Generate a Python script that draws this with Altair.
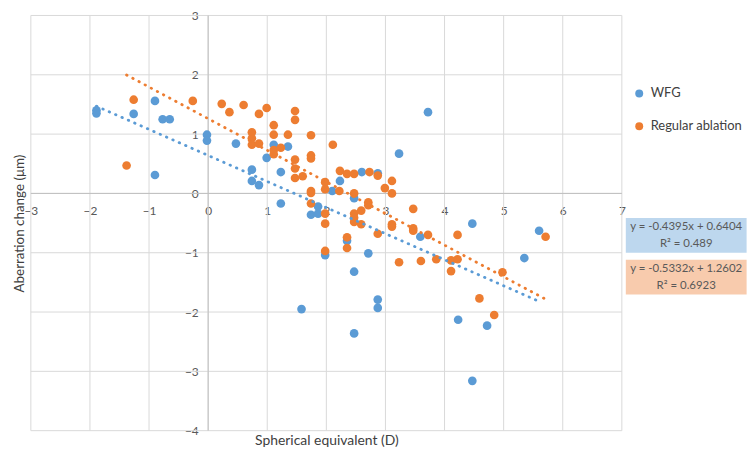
import altair as alt
import pandas as pd

# ---------------- data ----------------
series_names = ["WFG", "Regular ablation"]
series_colors = ["#5B9BD5", "#ED7D31"]

wfg_x = [-1.89, -1.89, -1.26, -0.90, -0.77, -0.65, -0.90, -0.02, -0.02, 0.47,
         0.74, 0.74, 0.86, 0.99, 1.11, 1.23, 1.35, 1.23, 1.74, 1.86,
         1.86, 2.10, 2.23, 2.47, 2.60, 2.87, 3.23, 3.72, 1.58, 2.35,
         1.98, 2.71, 2.47, 2.87, 2.87, 2.47, 3.59, 4.47, 5.35, 5.60,
         4.23, 4.72, 4.47]
wfg_y = [1.40, 1.35, 1.34, 1.56, 1.25, 1.25, 0.31, 0.99, 0.89, 0.84,
         0.40, 0.21, 0.14, 0.60, 0.82, 0.36, 0.79, -0.17, -0.36, -0.22,
         -0.34, 0.04, 0.21, -0.08, 0.36, 0.34, 0.67, 1.37, -1.95, -0.80,
         -1.04, -1.01, -1.32, -1.79, -1.93, -2.36, -0.73, -0.51, -1.09, -0.63,
         -2.13, -2.23, -3.16]

reg_x = [-1.38, -1.26, -0.26, 0.23, 0.36, 0.60, 0.86, 0.99, 1.47, 1.47,
         1.11, 1.11, 1.35, 0.74, 0.74, 0.74, 0.86, 1.11, 1.11, 1.23,
         1.47, 1.47, 1.47, 1.60, 1.74, 1.74, 1.74, 2.11, 1.74, 1.74,
         1.74, 1.98, 1.98, 1.98, 1.98, 2.23, 2.22, 2.35, 2.47, 2.73,
         2.87, 2.47, 2.71, 2.71, 2.47, 2.47, 2.47, 2.59, 2.59, 2.87,
         2.35, 2.35, 1.98, 3.11, 2.99, 3.11, 3.47, 3.11, 3.11, 3.47,
         3.47, 3.72, 4.22, 3.23, 3.60, 3.86, 4.11, 4.22, 4.11, 4.98,
         4.59, 4.84, 5.71]
reg_y = [0.47, 1.58, 1.56, 1.51, 1.37, 1.49, 1.34, 1.44, 1.39, 1.24,
         1.15, 0.99, 0.99, 1.03, 0.93, 0.82, 0.84, 0.73, 0.66, 0.77,
         0.57, 0.42, 0.26, 0.29, 0.98, 0.64, 0.59, 0.82, 0.04, 0.01,
         -0.17, 0.19, 0.07, -0.34, -0.51, 0.38, 0.04, 0.33, 0.33, 0.36,
         0.30, 0.00, -0.15, -0.20, -0.34, -0.41, -0.48, -0.29, -0.52, -0.68,
         -0.74, -0.92, -0.97, 0.21, 0.09, 0.00, -0.26, -0.52, -0.56, -0.59,
         -0.63, -0.70, -0.70, -1.16, -1.14, -1.11, -1.13, -1.11, -1.31, -1.33,
         -1.77, -2.05, -0.73]

# trendline equations printed on the chart
slopes = [-0.4395, -0.5332]
intercepts = [0.6404, 1.2602]
r_squared = ["0.489", "0.6923"]

x_ticks = [-3, -2, -1, 0, 1, 2, 3, 4, 5, 6, 7]
y_ticks = [-4, -3, -2, -1, 0, 1, 2, 3]

# ---------------- layout ----------------
W, H = 595, 418
PAD_L = 23
FONT = "Lato"
GRID = "#d9d9d9"
ZERO = "#bfbfbf"
LABEL = "#595959"
box_fills = ["#BDD7EE", "#F8CBAD"]
# annotation boxes, in data units (left/right, top/bottom of each box, text rows)
box_x0, box_x1, box_xc = 7.067, 9.111, 8.089
box_top = [-0.416, -1.120]
box_bot = [-1.002, -1.706]
line1_y = [-0.567, -1.270]
line2_y = [-0.852, -1.555]

# ---------------- tables ----------------
points = pd.DataFrame({
    "x": wfg_x + reg_x,
    "y": wfg_y + reg_y,
    "series": [series_names[0]] * len(wfg_x) + [series_names[1]] * len(reg_x),
})

xs_all = [wfg_x, reg_x]
trend_tables = []
for i in range(2):
    lo, hi = min(xs_all[i]), max(xs_all[i])
    trend_tables.append(pd.DataFrame({
        "x": [lo, hi],
        "y": [slopes[i] * lo + intercepts[i], slopes[i] * hi + intercepts[i]],
    }))

boxes = pd.DataFrame({
    "x": [box_x0] * 2, "x2": [box_x1] * 2,
    "y": box_top, "y2": box_bot, "fill": box_fills,
})
eq_text = []
for i in range(2):
    eq_text.append({"x": box_xc, "y": line1_y[i],
                    "t": f"y = {slopes[i]}x + {intercepts[i]}"})
    eq_text.append({"x": box_xc, "y": line2_y[i], "t": f"R² = {r_squared[i]}"})
eq_text = pd.DataFrame(eq_text)

# ---------------- scales / axes ----------------
xscale = alt.Scale(domain=[-3, 7], nice=False, zero=False)
yscale = alt.Scale(domain=[-4, 3], nice=False, zero=False)

xaxis = alt.Axis(values=x_ticks, grid=False, domain=False, ticks=False,
                 labelFlush=False, labelBound=False, labelOverlap=False,
                 labelPadding=12, labelFont=FONT, labelFontSize=12, labelColor=LABEL,
                 offset=-H * 4 / 7, format="d",
                 title="Spherical equivalent (D)", titleY=242,
                 titleFont=FONT, titleFontSize=14, titleFontWeight="normal",
                 titleColor="#404040")
yaxis = alt.Axis(values=y_ticks, grid=False, domain=False, ticks=False,
                 labelFlush=False, labelBound=False, labelOverlap=False,
                 labelPadding=10, labelFont=FONT, labelFontSize=12, labelColor=LABEL,
                 offset=-W * 0.3, format="d",
                 title="Aberration change (μm)", titleX=-W * 0.3 - 4,
                 titleFont=FONT, titleFontSize=13.5, titleFontWeight="normal",
                 titleColor="#404040")

X = alt.X("x:Q", scale=xscale, axis=xaxis)
Y = alt.Y("y:Q", scale=yscale, axis=yaxis)

vgrid = alt.Chart(pd.DataFrame({"x": x_ticks})).mark_rule(
    color=GRID, strokeWidth=1).encode(x=X)
hgrid = alt.Chart(pd.DataFrame({"y": y_ticks})).mark_rule(
    color=GRID, strokeWidth=1).encode(y=Y)
vzero = alt.Chart(pd.DataFrame({"x": [0]})).mark_rule(
    color=ZERO, strokeWidth=1).encode(x=X)
hzero = alt.Chart(pd.DataFrame({"y": [0]})).mark_rule(
    color=ZERO, strokeWidth=1).encode(y=Y)

box_layer = alt.Chart(boxes).mark_rect().encode(
    x=X, x2="x2:Q", y=Y, y2="y2:Q",
    fill=alt.Fill("fill:N", scale=None))
text_layer = alt.Chart(eq_text).mark_text(
    font=FONT, fontSize=11.5, color=LABEL, align="center", baseline="middle"
).encode(x=X, y=Y, text="t:N")

pts = alt.Chart(points).mark_circle(size=76, opacity=1).encode(
    x=X, y=Y,
    color=alt.Color("series:N",
                    scale=alt.Scale(domain=series_names, range=series_colors),
                    legend=alt.Legend(orient="none", legendX=606, legendY=72,
                                      title=None, labelFont=FONT, labelFontSize=13,
                                      labelColor="#404040", symbolType="circle",
                                      symbolSize=64, labelOffset=5, rowPadding=19,
                                      padding=0, symbolStrokeWidth=0)),
    order=alt.Order("ord:Q"),
).transform_calculate(ord="datum.series == 'WFG' ? 0 : 1")

trend_layers = [
    alt.Chart(trend_tables[i]).mark_line(
        color=series_colors[i], strokeWidth=2.8, strokeDash=[0.5, 6.5],
        strokeCap="round").encode(x=X, y=Y)
    for i in range(2)
]

chart = alt.layer(
    vgrid, hgrid, vzero, hzero, box_layer, text_layer, pts, *trend_layers
).properties(
    width=W, height=H,
    autosize=alt.AutoSizeParams(type="none"),
    padding={"left": PAD_L, "top": 6, "right": 126, "bottom": 25},
).configure(background="white").configure_view(stroke=None)

chart.save("out.html", embed_options={"renderer": "svg", "actions": False})
